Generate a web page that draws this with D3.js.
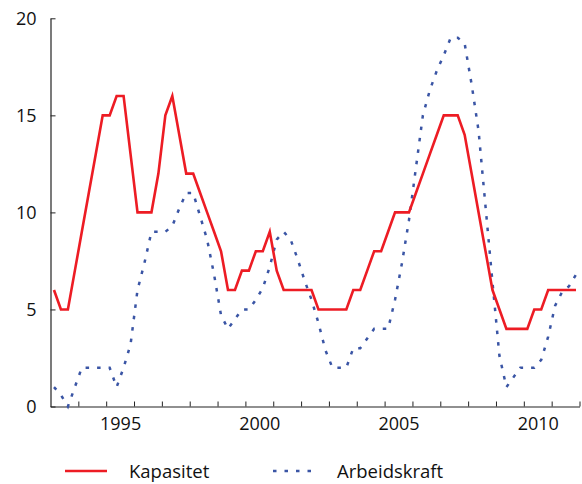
<!DOCTYPE html>
<html>
<head>
<meta charset="utf-8">
<script src="https://cdn.jsdelivr.net/npm/d3@7"></script>
<style>
  html, body { margin: 0; padding: 0; background: #fff; }
  svg { display: block; font-family: "Open Sans", "Noto Sans", sans-serif; }
</style>
</head>
<body>
<svg id="chart" width="582" height="484"></svg>
<script>
// ---- data (quarterly, 1993 Q1 – 2011 Q4) ----
const startYear = 1993;
const quarters = d3.range(76).map(i => `${startYear + Math.floor(i / 4)}K${(i % 4) + 1}`);

const kapasitet = [
  6, 5, 5, 7, 9, 11, 13, 15, 15, 16, 16, 13, 10, 10, 10, 12,
  15, 16, 14, 12, 12, 11, 10, 9, 8, 6, 6, 7, 7, 8, 8, 9,
  7, 6, 6, 6, 6, 6, 5, 5, 5, 5, 5, 6, 6, 7, 8, 8,
  9, 10, 10, 10, 11, 12, 13, 14, 15, 15, 15, 14, 12, 10, 8, 6,
  5, 4, 4, 4, 4, 5, 5, 6, 6, 6, 6, 6
];

const arbeidskraft = [
  1, 0.6, 0, 1, 2, 2, 2, 2, 2, 1, 2, 3.2, 6, 7.4, 9, 9,
  9, 9.3, 10.2, 11, 11, 9.8, 8.6, 6.8, 4.7, 4, 4.5, 5, 5, 5.5, 6.1, 7.2,
  8.6, 9, 8.6, 7.6, 6.5, 5.5, 4.3, 2.9, 2, 2, 2, 3, 3, 3.5, 4, 4,
  4, 5.5, 7.4, 9.6, 12.3, 15, 16.3, 17.3, 18.1, 19, 19, 18.7, 16.6, 14.2, 10.3, 6.4,
  2.6, 1, 1.5, 2, 2, 2, 2.4, 3.6, 5.2, 5.9, 6.2, 6.8
];

const yTicks = [0, 5, 10, 15, 20];
const yearBoundaries = d3.range(1994, 2013);
const yearLabels = [1995, 2000, 2005, 2010];
const seriesNames = ["Kapasitet", "Arbeidskraft"];
const seriesColors = ["#ed1c24", "#3a55a5"];

// ---- layout ----
const svg = d3.select("#chart");
const x0 = 50.5, x1 = 579.5, yBottom = 406.5, yTop = 18.3;

const x = d3.scaleLinear().domain([1993, 2012]).range([x0, x1]);
const y = d3.scaleLinear().domain([0, 20]).range([yBottom, yTop]);
const qx = i => x(startYear + (i + 0.5) / 4);

// x axis (ticks at year boundaries, pointing up)
const xAxis = svg.append("g")
  .attr("transform", `translate(0,${yBottom})`)
  .call(d3.axisBottom(x).tickValues(yearBoundaries).tickSizeInner(-5).tickSizeOuter(0).tickFormat(""));
xAxis.select(".domain").attr("stroke", "#222").attr("stroke-width", 1.2);
xAxis.selectAll(".tick line").attr("stroke", "#222").attr("stroke-width", 1);

// x labels centred within each year
const xLab = svg.append("g")
  .attr("transform", `translate(0,${yBottom})`)
  .call(d3.axisBottom(x).tickValues(yearLabels.map(d => d + 0.5)).tickSize(0).tickPadding(10.5)
    .tickFormat(d => String(Math.floor(d))));
xLab.select(".domain").remove();
xLab.selectAll("text").attr("font-size", 18).attr("fill", "#111").attr("font-family", "Open Sans");

// y axis (ticks pointing right)
const yAxis = svg.append("g")
  .attr("transform", `translate(${x0},0)`)
  .call(d3.axisLeft(y).tickValues(yTicks).tickSizeInner(-5).tickSizeOuter(0).tickPadding(14));
yAxis.select(".domain").attr("stroke", "#222").attr("stroke-width", 1.2);
yAxis.selectAll(".tick line").attr("stroke", "#222").attr("stroke-width", 1);
yAxis.selectAll("text").attr("font-size", 18).attr("fill", "#111").attr("font-family", "Open Sans");

// lines
const line = d3.line().x((d, i) => qx(i)).y(d => y(d));

svg.append("path")
  .datum(arbeidskraft)
  .attr("fill", "none")
  .attr("stroke", seriesColors[1])
  .attr("stroke-width", 2.5)
  .attr("stroke-dasharray", "3.5,8")
  .attr("d", line);

svg.append("path")
  .datum(kapasitet)
  .attr("fill", "none")
  .attr("stroke", seriesColors[0])
  .attr("stroke-width", 2.6)
  .attr("stroke-linejoin", "miter")
  .attr("d", line);

// legend
const legend = [
  { name: seriesNames[0], color: seriesColors[0], dash: null, lx: 65, tx: 129 },
  { name: seriesNames[1], color: seriesColors[1], dash: "3.5,8", lx: 273, tx: 337 }
];
const lg = svg.append("g");
legend.forEach(l => {
  lg.append("line")
    .attr("x1", l.lx).attr("x2", l.lx + 42)
    .attr("y1", 471).attr("y2", 471)
    .attr("stroke", l.color).attr("stroke-width", 2.6)
    .attr("stroke-dasharray", l.dash);
  lg.append("text")
    .attr("x", l.tx).attr("y", 478)
    .attr("font-size", 18.5).attr("fill", "#111")
    .text(l.name);
});
</script>
</body>
</html>
